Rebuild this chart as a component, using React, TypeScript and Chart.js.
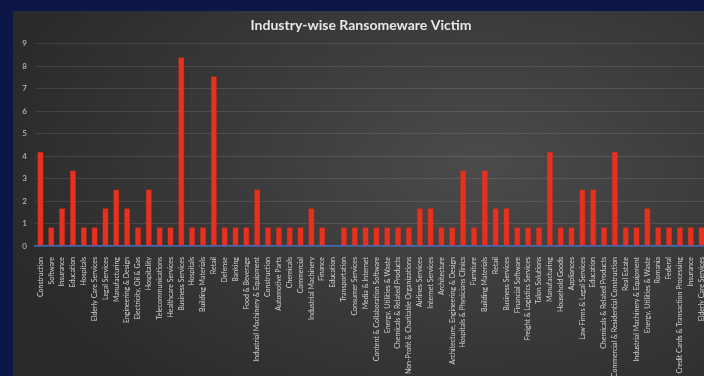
import React, { useEffect, useRef } from "react";
import { Chart, registerables } from "chart.js";

Chart.register(...registerables);

const TITLE = "Industry-wise Ransomeware Victim";

const categories: string[] = [
  "Construction",
  "Software",
  "Insurance",
  "Education",
  "Hospitals",
  "Elderly Care Services",
  "Legal Services",
  "Manufacturing",
  "Engineering & Design",
  "Electricity, Oil & Gas",
  "Hospitality",
  "Telecommunications",
  "Healthcare Services",
  "Business Services",
  "Hospitals",
  "Building Materials",
  "Retail",
  "Defense",
  "Banking",
  "Food & Beverage",
  "Industrial Machinery & Equipment",
  "Construction",
  "Automotive Parts",
  "Chemicals",
  "Commercial",
  "Industrial Machinery",
  "Finance",
  "Education",
  "Transportation",
  "Consumer Services",
  "Media & Internet",
  "Content & Collaboration Software",
  "Energy, Utilities & Waste",
  "Chemicals & Related Products",
  "Non-Profit & Charitable Organizations",
  "Airlines Services",
  "Internet Services",
  "Architecture",
  "Architecture, Engineering & Design",
  "Hospitals & Physicians Clinics",
  "Furniture",
  "Building Materials",
  "Retail",
  "Business Services",
  "Financial Software",
  "Freight & Logistics Services",
  "Talon Solutions",
  "Manufacturing",
  "Household Goods",
  "Appliances",
  "Law Firms & Legal Services",
  "Education",
  "Chemicals & Related Products",
  "Commercial & Residential Construction",
  "Real Estate",
  "Industrial Machinery & Equipment",
  "Energy, Utilities & Waste",
  "Romania",
  "Federal",
  "Credit Cards & Transaction Processing",
  "Insurance",
  "Elderly Care Services",
];

const victims: number[] = [
  4.2, 0.84, 1.68, 3.36, 0.84, 0.84, 1.68, 2.52, 1.68, 0.84,
  2.52, 0.84, 0.84, 8.4, 0.84, 0.84, 7.56, 0.84, 0.84, 0.84,
  2.52, 0.84, 0.84, 0.84, 0.84, 1.68, 0.84, 0, 0.84, 0.84,
  0.84, 0.84, 0.84, 0.84, 0.84, 1.68, 1.68, 0.84, 0.84, 3.36,
  0.84, 3.36, 1.68, 1.68, 0.84, 0.84, 0.84, 4.2, 0.84, 0.84,
  2.52, 2.52, 0.84, 4.2, 0.84, 0.84, 1.68, 0.84, 0.84, 0.84,
  0.84, 0.84,
];

const yTicks: number[] = [0, 1, 2, 3, 4, 5, 6, 7, 8, 9];

export default function App() {
  const canvasRef = useRef<HTMLCanvasElement | null>(null);

  useEffect(() => {
    document.body.style.margin = "0";
    const canvas = canvasRef.current;
    if (!canvas) return;
    const chart = new Chart(canvas, {
      type: "bar",
      data: {
        labels: categories,
        datasets: [
          {
            label: "Victims",
            data: victims,
            backgroundColor: "#e8301e",
            borderColor: "#c8281a",
            borderWidth: 0.5,
            categoryPercentage: 1,
            barPercentage: 0.56,
          },
        ],
      },
      options: {
        responsive: false,
        animation: false,
        maintainAspectRatio: false,
        layout: { padding: { left: 0, right: 4, top: 0, bottom: 0 } },
        plugins: {
          legend: { display: false },
          tooltip: { enabled: false },
          title: {
            display: true,
            text: TITLE,
            color: "#e8e8e8",
            font: { family: "Lato, 'Open Sans', sans-serif", size: 14, weight: "bold" },
            padding: { top: 6, bottom: 10 },
          },
        },
        scales: {
          x: {
            grid: { display: false },
            border: { display: true, color: "#3b6cc0", width: 1.5 },
            ticks: {
              autoSkip: false,
              maxRotation: 90,
              minRotation: 90,
              color: "#d4d4d4",
              padding: 3,
              font: { family: "Lato, 'Open Sans', sans-serif", size: 7 },
            },
            afterFit: (s: any) => {
              s.height = 130;
            },
          },
          y: {
            min: 0,
            max: 9,
            afterBuildTicks: (s: any) => {
              s.ticks = yTicks.map((v) => ({ value: v }));
            },
            grid: { color: "rgba(255,255,255,0.10)", lineWidth: 1, drawTicks: false },
            border: { display: false },
            ticks: {
              color: "#c8c8c8",
              padding: 8,
              font: { family: "Lato, 'Open Sans', sans-serif", size: 8 },
            },
            afterFit: (s: any) => {
              s.width = 22;
            },
          },
        },
      },
    });
    return () => chart.destroy();
  }, []);

  return (
    <div
      style={{
        position: "fixed",
        left: 0,
        top: 0,
        width: 704,
        height: 376,
        overflow: "hidden",
        background: "#0c1747",
      }}
    >
      <div
        style={{
          position: "absolute",
          left: 13,
          top: 11,
          width: 720,
          height: 380,
          background:
            "radial-gradient(ellipse 70% 80% at 65% 40%, #4b4b4b 0%, #3c3c3c 45%, #2a2a2a 100%)",
        }}
      >
        <canvas ref={canvasRef} width={700} height={365} style={{ display: "block" }} />
      </div>
    </div>
  );
}
